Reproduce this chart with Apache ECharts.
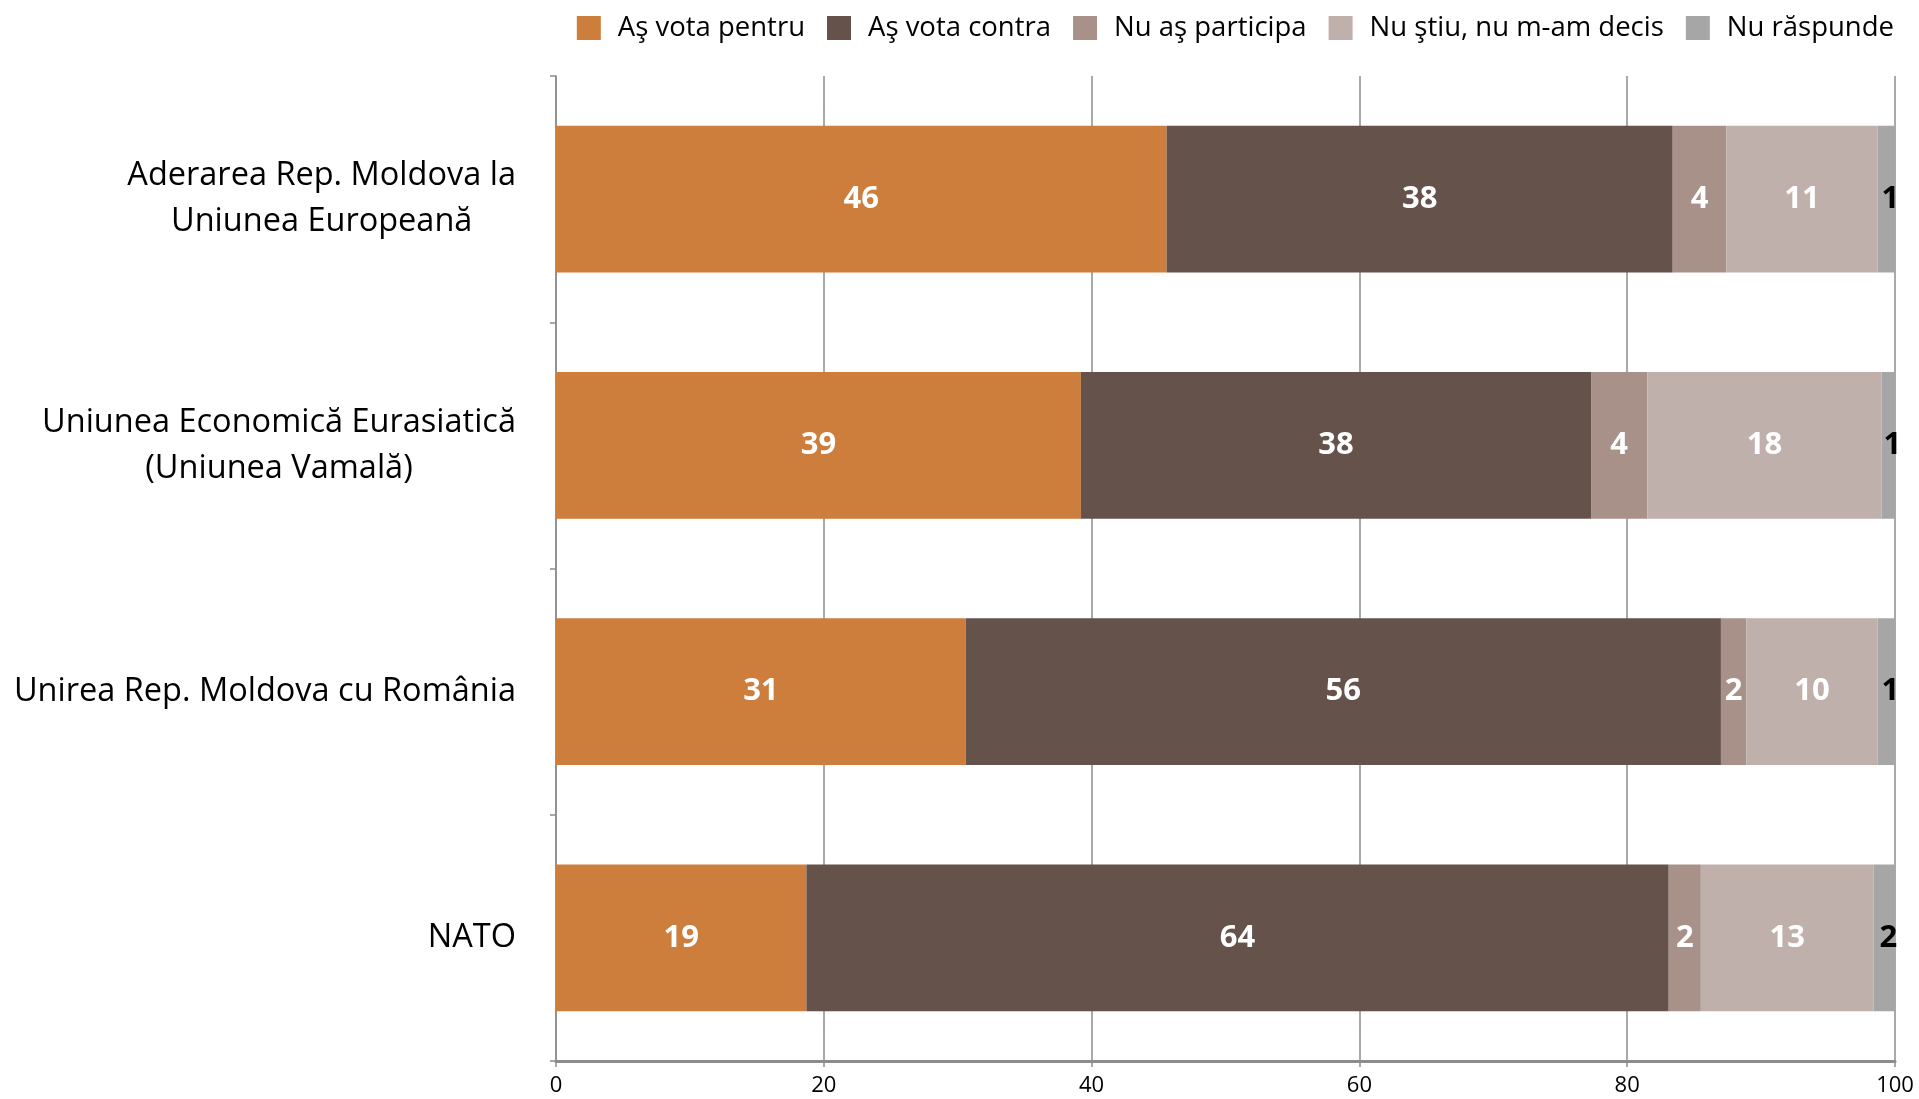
<!DOCTYPE html>
<html>
<head>
<meta charset="utf-8">
<script src="https://cdn.jsdelivr.net/npm/echarts@6/dist/echarts.min.js"></script>
<style>
html,body{margin:0;padding:0;background:#fff;}
#chart{width:1919px;height:1099px;}
</style>
</head>
<body>
<div id="chart"></div>
<script>
var categories = [
  'Aderarea Rep. Moldova la\nUniunea Europeană',
  'Uniunea Economică Eurasiatică\n(Uniunea Vamală)',
  'Unirea Rep. Moldova cu România',
  'NATO'
];
var seriesNames = ['Aş vota pentru', 'Aş vota contra', 'Nu aş participa', 'Nu ştiu, nu m-am decis', 'Nu răspunde'];
var pentru     = [45.6, 39.2, 30.6, 18.7];
var contra     = [37.8, 38.1, 56.4, 64.4];
var participa  = [4.0, 4.2, 1.9, 2.4];
var nustiu     = [11.3, 17.5, 9.8, 12.9];
var nuraspunde = [1.3, 1.0, 1.3, 1.6];
var xTicks = [0, 20, 40, 60, 80, 100];

var colors = ['#CD7D3C', '#64524B', '#A89189', '#C0B0AC', '#A6A6A6'];
var labelColors = ['#fff', '#fff', '#fff', '#fff', '#000'];
var labelOffsets = [[0, 0], [0, 0], [0, 0], [0, 0], [4, 0]];
var values = [pentru, contra, participa, nustiu, nuraspunde];
var FONT = '"Open Sans", "Noto Sans", sans-serif';

var chart = echarts.init(document.getElementById('chart'));
var series = seriesNames.map(function (name, i) {
  return {
    name: name,
    type: 'bar',
    stack: 'total',
    barWidth: '59.5%',
    itemStyle: { color: colors[i] },
    label: {
      show: true,
      position: 'inside',
      offset: labelOffsets[i],
      color: labelColors[i],
      fontFamily: FONT,
      fontWeight: 'bold',
      fontSize: 31,
      formatter: function (p) { return Math.round(p.value); }
    },
    emphasis: { disabled: true },
    data: values[i]
  };
});

chart.setOption({
  animation: false,
  legend: {
    top: 9,
    right: 20,
    itemWidth: 24,
    itemHeight: 24,
    itemGap: 22,
    icon: 'rect',
    textStyle: { fontFamily: FONT, fontSize: 27.5, color: '#000', padding: [0, 0, 0, 12] },
    data: seriesNames
  },
  grid: { left: 556, right: 24, top: 76, bottom: 38, containLabel: false },
  xAxis: {
    type: 'value',
    min: 0, max: 100, interval: 20,
    axisLine: { show: true, lineStyle: { color: '#8c8c8c', width: 3 } },
    axisTick: { show: true, length: 6, lineStyle: { color: '#8c8c8c', width: 1.5 } },
    axisLabel: { fontFamily: FONT, fontSize: 22, color: '#000', margin: 14,
      formatter: function (v) { return xTicks.indexOf(v) >= 0 ? String(v) : ''; } },
    splitLine: { show: true, lineStyle: { color: '#8c8c8c', width: 1.5 } }
  },
  yAxis: {
    type: 'category',
    inverse: true,
    data: categories,
    axisLine: { show: true, lineStyle: { color: '#8c8c8c', width: 1.5 } },
    axisTick: { show: true, length: 6, lineStyle: { color: '#8c8c8c', width: 1.5 } },
    axisLabel: {
      margin: 40,
      align: 'right',
      fontFamily: FONT,
      fontSize: 32.5,
      color: '#000',
      lineHeight: 46,
      formatter: function (v) {
        return v.split('\n').map(function (l) { return '{c|' + l + '}'; }).join('\n');
      },
      rich: { c: { align: 'center', fontFamily: FONT, fontSize: 32.5, color: '#000', lineHeight: 46 } }
    },
    splitLine: { show: false }
  },
  series: series
});
</script>
</body>
</html>
